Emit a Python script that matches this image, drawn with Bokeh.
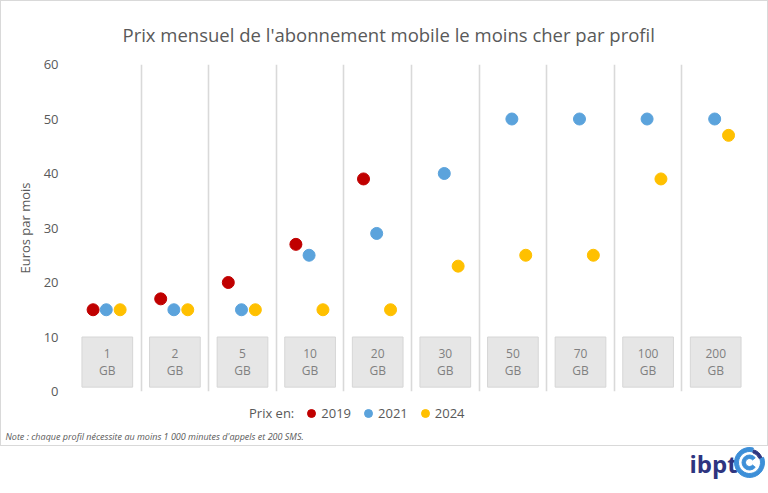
import math
from bokeh.plotting import figure
from bokeh.layouts import column
from bokeh.models import (Range1d, FixedTicker, ColumnDataSource, Legend, LegendItem)
from bokeh.core.properties import value
from bokeh.transform import dodge
from bokeh.embed import file_html
from bokeh.resources import INLINE

# ---------------- data ----------------
profiles = ["1 GB", "2 GB", "5 GB", "10 GB", "20 GB", "30 GB", "50 GB", "70 GB", "100 GB", "200 GB"]
volume_labels = ["1", "2", "5", "10", "20", "30", "50", "70", "100", "200"]
unit_label = "GB"
years = ["2019", "2021", "2024"]
prix_2019 = [15, 17, 20, 27, 39, math.nan, math.nan, math.nan, math.nan, math.nan]
prix_2021 = [15, 15, 15, 25, 29, 40, 50, 50, 50, 50]
prix_2024 = [15, 15, 15, 15, 15, 23, 25, 25, 39, 47]
y_ticks = [0, 10, 20, 30, 40, 50, 60]

title_text = "Prix mensuel de l'abonnement mobile le moins cher par profil"
y_label = "Euros par mois"
legend_prefix = "Prix en:"
note_text = "Note : chaque profil nécessite au moins 1 000 minutes d'appels et 200 SMS."
brand = "ibpt"

# ---------------- style ----------------
colors = ["#c00000", "#5ba3dc", "#ffc000"]
offsets = [-0.21, -0.015, 0.19]
FONT = "Open Sans"
GREY = "#595959"

n = len(profiles)
centers = [i + 0.5 for i in range(n)]
source = ColumnDataSource(dict(
    x=centers, profile=profiles, vol=volume_labels, unit=[unit_label] * n,
    p2019=prix_2019, p2021=prix_2021, p2024=prix_2024,
))

# ---------------- main chart ----------------
p = figure(width=766, height=400, output_backend="svg", toolbar_location=None,
           x_range=Range1d(0, n), y_range=Range1d(0, 60),
           min_border_left=72, min_border_right=18, min_border_top=62, min_border_bottom=10,
           title=title_text)
p.frame_align = False
p.outline_line_color = None
p.background_fill_color = "white"
p.border_fill_color = "white"

p.title.align = "left"
p.title.offset = 49
p.title.standoff = 36
p.title.text_font = FONT
p.title.text_font_size = "18.5px"
p.title.text_font_style = "normal"
p.title.text_color = GREY

p.xaxis.visible = False
p.yaxis.ticker = FixedTicker(ticks=y_ticks)
p.yaxis.axis_line_color = None
p.yaxis.major_tick_line_color = None
p.yaxis.minor_tick_line_color = None
p.yaxis.major_label_text_font = FONT
p.yaxis.major_label_text_font_size = "13px"
p.yaxis.major_label_text_color = GREY
p.yaxis.major_label_standoff = 9
p.yaxis.axis_label = y_label
p.yaxis.axis_label_text_font = FONT
p.yaxis.axis_label_text_font_size = "13px"
p.yaxis.axis_label_text_font_style = "normal"
p.yaxis.axis_label_text_color = GREY
p.yaxis.axis_label_standoff = 7

p.ygrid.visible = False
p.xgrid.ticker = FixedTicker(ticks=list(range(n + 1)))
p.xgrid.grid_line_color = "#d9d9d9"
p.xgrid.grid_line_width = 1.6

# category boxes
p.rect(x="x", y=5.4, width=0.75, height=9.2, source=source,
       fill_color="#e6e6e6", line_color="#d6d6d6", line_width=1)
p.text(x="x", y=7.0, text="vol", source=source, text_align="center", text_baseline="middle",
       text_font=value(FONT), text_font_size="12px", text_color="#808080")
p.text(x="x", y=3.8, text="unit", source=source, text_align="center", text_baseline="middle",
       text_font=value(FONT), text_font_size="12px", text_color="#808080")

fields = ["p2019", "p2021", "p2024"]
for f, c, off in zip(fields, colors, offsets):
    p.scatter(x=dodge("x", off, range=p.x_range), y=f, source=source,
              size=12, fill_color=c, line_color=c)

# ---------------- legend + note strip ----------------
s = figure(width=766, height=44, output_backend="svg", toolbar_location=None,
           x_range=Range1d(0, 766), y_range=Range1d(44, 0), min_border=0, title=None)
s.frame_align = False
s.axis.visible = False
s.grid.visible = False
s.outline_line_color = None

placeholder = dict(x=[math.nan], y=[math.nan])
blank = s.scatter(x="x", y="y", source=ColumnDataSource(placeholder), fill_alpha=0, line_alpha=0)
proxies = [s.scatter(x="x", y="y", source=ColumnDataSource(placeholder),
                     fill_color=c, line_color=c) for c in colors]
items = [LegendItem(label=legend_prefix, renderers=[blank])]
items += [LegendItem(label=yr, renderers=[r]) for yr, r in zip(years, proxies)]
legend = Legend(items=items, orientation="horizontal", location=(228, 22),
                glyph_width=20, glyph_height=20, label_height=20, label_standoff=0,
                spacing=7, padding=0, margin=0, border_line_color=None,
                background_fill_alpha=0,
                label_text_font=FONT, label_text_font_size="13px", label_text_color=GREY)
s.add_layout(legend, "center")

s.text(x=[4], y=[35], text=[note_text], text_align="left", text_baseline="middle",
       text_font=value(FONT), text_font_size="9px", text_font_style="italic",
       text_color=GREY)

panel = column(p, s, spacing=0, styles={"border": "1px solid #d9d9d9"})

# ---------------- logo strip ----------------
logo = figure(width=768, height=47, output_backend="svg", toolbar_location=None,
              x_range=Range1d(0, 768), y_range=Range1d(0, 47),
              min_border=0, title=None)
logo.frame_align = False
logo.axis.visible = False
logo.grid.visible = False
logo.outline_line_color = None
logo.text(x=[689], y=[30], text=[brand], text_align="left", text_baseline="middle",
          text_font=value(FONT), text_font_size="24px", text_font_style="bold",
          text_color="#2e3580")
logo.annular_wedge(x=[749], y=[31], inner_radius=11, outer_radius=15,
                   start_angle=math.radians(75), end_angle=math.radians(380),
                   color="#3d8fd8")
logo.annular_wedge(x=[749], y=[31], inner_radius=4, outer_radius=7.5,
                   start_angle=math.radians(40), end_angle=math.radians(320),
                   color="#3d8fd8")
logo.annular_wedge(x=[750], y=[32], inner_radius=9, outer_radius=12,
                   start_angle=math.radians(20), end_angle=math.radians(75),
                   color="#2e3580")

layout = column(panel, logo, spacing=0)
open("out.html", "w").write(file_html(layout, INLINE))
